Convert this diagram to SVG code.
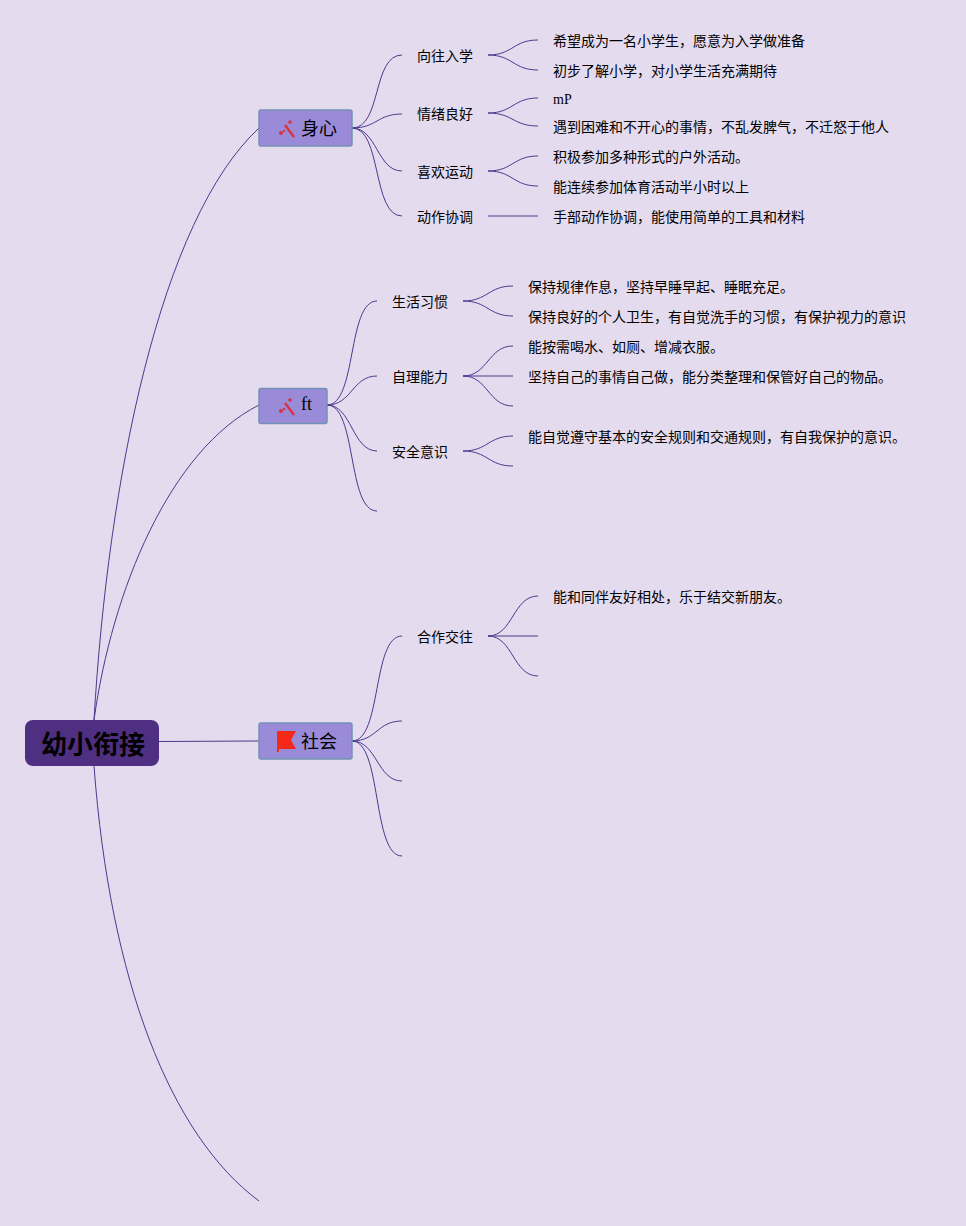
<svg xmlns="http://www.w3.org/2000/svg" width="966" height="1226" viewBox="0 0 966 1226">
<style>
text{font-family:"Liberation Serif","Noto Sans CJK SC",serif;fill:#000}
.t{font-size:14px}
.m{font-size:18px}
.r{font-size:26px;font-weight:700}
.l{fill:none;stroke:#4a3a8c;stroke-width:1}
.b{fill:#9a8bd8;stroke:#7391b4;stroke-width:1.5}
.ic{fill:#d8323f}
.w{stroke:#d8323f;stroke-width:2.4;fill:none}
</style>
<defs>
<g id="wand"><path class="w" d="M-2 -4L7 8"/><circle class="ic" cx="3" cy="-7" r="1.800"/><circle class="ic" cx="-6" cy="4" r="2"/><circle class="ic" cx="-3" cy="2" r="1.200"/></g>
</defs>
<rect width="966" height="1226" fill="#e4dbef"/>
<g id="connectors">
<path class="l" d="M94 720C108 480 160 220 259 128"/>
<path class="l" d="M94 720C112 590 170 450 259 405"/>
<path class="l" d="M159 741.500L259 741"/>
<path class="l" d="M94 766C110 980 170 1135 259 1201"/>
<path class="l" d="M352 128C382 128 372 55 402 55M352 128C377 128 377 114 402 114M352 128C377 128 377 171 402 171M352 128C382 128 372 216 402 216"/>
<path class="l" d="M327 405C357 405 347 301 377 301M327 405C352 405 352 376 377 376M327 405C352 405 352 451 377 451M327 405C357 405 347 511 377 511"/>
<path class="l" d="M352 741C382 741 372 636 402 636M352 741C377 741 377 721 402 721M352 741C377 741 377 781 402 781M352 741C382 741 372 856 402 856"/>
<path class="l" d="M488 55C513 55 513 40 538 40M488 55C513 55 513 70 538 70"/>
<path class="l" d="M488 113C513 113 513 98 538 98M488 113C513 113 513 126 538 126"/>
<path class="l" d="M488 171C513 171 513 156 538 156M488 171C513 171 513 186 538 186"/>
<path class="l" d="M488 216H538"/>
<path class="l" d="M463 301C488 301 488 286 513 286M463 301C488 301 488 316 513 316"/>
<path class="l" d="M463 376C488 376 488 346 513 346M463 376H513M463 376C488 376 488 406 513 406"/>
<path class="l" d="M463 451C488 451 488 436 513 436M463 451C488 451 488 466 513 466"/>
<path class="l" d="M488 636C513 636 513 596 538 596M488 636H538M488 636C513 636 513 676 538 676"/>
</g>
<g id="root"><rect x="25" y="720" width="134" height="46" rx="8" fill="#4f2f82"/><text class="r" x="93" y="754" text-anchor="middle">幼小衔接</text></g>
<g id="n-shenxin"><rect class="b" x="259" y="110" width="93" height="36" rx="2"/><use href="#wand" x="287" y="129"/><text class="m" x="301" y="135">身心</text></g>
<g id="n-ft"><rect class="b" x="259" y="388.500" width="68" height="35" rx="2"/><use href="#wand" x="287" y="407"/><text class="m" x="301" y="410">ft</text></g>
<g id="n-shehui"><rect class="b" x="259" y="723" width="93" height="36" rx="2"/><path d="M277 731H296L291 740L296 749H279V752H277Z" fill="#f5281a"/><text class="m" x="301" y="748">社会</text></g>
<g id="n1"><text class="t" x="417" y="61">向往入学</text></g>
<g id="n2"><text class="t" x="417" y="119">情绪良好</text></g>
<g id="n3"><text class="t" x="417" y="177">喜欢运动</text></g>
<g id="n4"><text class="t" x="417" y="222">动作协调</text></g>
<g id="n5"><text class="t" x="553" y="46">希望成为一名小学生，愿意为入学做准备</text></g>
<g id="n6"><text class="t" x="553" y="76">初步了解小学，对小学生活充满期待</text></g>
<g id="n7"><text class="t" x="553" y="104">mP</text></g>
<g id="n8"><text class="t" x="553" y="132">遇到困难和不开心的事情，不乱发脾气，不迁怒于他人</text></g>
<g id="n9"><text class="t" x="553" y="162">积极参加多种形式的户外活动。</text></g>
<g id="n10"><text class="t" x="553" y="192">能连续参加体育活动半小时以上</text></g>
<g id="n11"><text class="t" x="553" y="222">手部动作协调，能使用简单的工具和材料</text></g>
<g id="n12"><text class="t" x="392" y="307">生活习惯</text></g>
<g id="n13"><text class="t" x="392" y="382">自理能力</text></g>
<g id="n14"><text class="t" x="392" y="457">安全意识</text></g>
<g id="n15"><text class="t" x="528" y="292">保持规律作息，坚持早睡早起、睡眠充足。</text></g>
<g id="n16"><text class="t" x="528" y="322">保持良好的个人卫生，有自觉洗手的习惯，有保护视力的意识</text></g>
<g id="n17"><text class="t" x="528" y="352">能按需喝水、如厕、增减衣服。</text></g>
<g id="n18"><text class="t" x="528" y="382">坚持自己的事情自己做，能分类整理和保管好自己的物品。</text></g>
<g id="n19"><text class="t" x="528" y="442">能自觉遵守基本的安全规则和交通规则，有自我保护的意识。</text></g>
<g id="n20"><text class="t" x="417" y="642">合作交往</text></g>
<g id="n21"><text class="t" x="553" y="602">能和同伴友好相处，乐于结交新朋友。</text></g>
</svg>
